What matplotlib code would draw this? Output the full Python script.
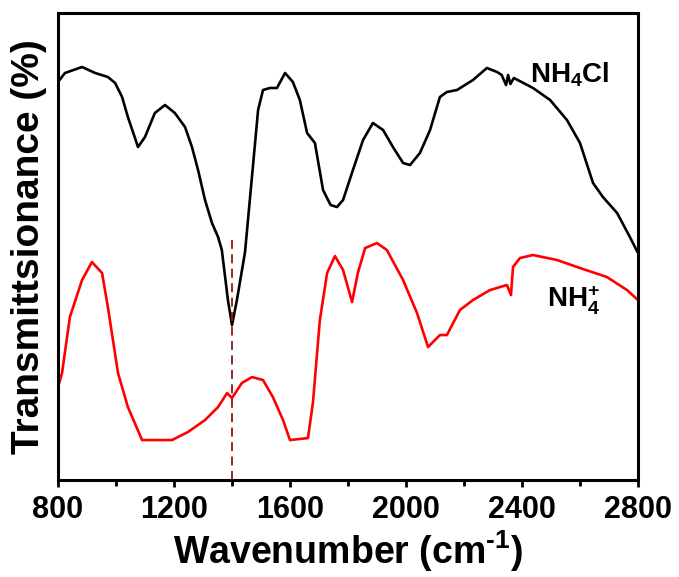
import matplotlib
matplotlib.use('Agg')
import matplotlib.pyplot as plt

plt.rcParams['font.family'] = ['Liberation Sans', 'DejaVu Sans']
plt.rcParams['font.weight'] = 'bold'
plt.rcParams['axes.labelweight'] = 'bold'
plt.rcParams['mathtext.fontset'] = 'custom'
plt.rcParams['mathtext.rm'] = 'Liberation Sans:bold'
plt.rcParams['mathtext.bf'] = 'Liberation Sans:bold'
plt.rcParams['mathtext.it'] = 'Liberation Sans:bold'

# NH4Cl spectrum (wavenumber, transmittance a.u.)
nh4cl_x = [800, 824, 883, 928, 972, 997, 1021, 1041, 1076, 1100, 1134, 1169, 1203, 1238,
           1262, 1283, 1307, 1331, 1352, 1365, 1386, 1400, 1417, 1445, 1472, 1490, 1507,
           1531, 1555, 1583, 1610, 1634, 1659, 1686, 1714, 1740, 1762, 1783, 1817, 1852,
           1886, 1921, 1955, 1990, 2014, 2048, 2083, 2117, 2141, 2176, 2231, 2279, 2314,
           2330, 2345, 2352, 2360, 2372, 2438, 2497, 2555, 2600, 2645, 2679, 2728, 2772,
           2800]
nh4cl_y = [398, 407, 413, 407, 403, 397, 383, 363, 333, 343, 367, 375, 367, 353,
           333, 310, 280, 257, 243, 230, 180, 155, 180, 228, 313, 370, 390,
           392, 392, 407, 398, 380, 347, 337, 290, 275, 273, 280, 310, 340,
           357, 350, 333, 317, 315, 327, 350, 383, 388, 390, 400, 412, 408,
           405, 395, 405, 396, 402, 392, 380, 360, 337, 297, 283, 267, 243,
           227]

# NH4+ spectrum
nh4_x = [800, 814, 841, 883, 917, 952, 972, 1007, 1041, 1090, 1193, 1248, 1307, 1352,
         1383, 1400, 1434, 1469, 1507, 1541, 1576, 1600, 1662, 1679, 1703, 1728, 1755,
         1783, 1814, 1834, 1859, 1900, 1934, 1990, 2038, 2076, 2117, 2141, 2186, 2231,
         2290, 2348, 2362, 2369, 2393, 2438, 2521, 2600, 2693, 2762, 2800]
nh4_y = [93, 107, 163, 200, 218, 207, 173, 107, 73, 40, 40, 48, 60, 73,
         87, 82, 97, 103, 100, 83, 60, 40, 42, 77, 160, 207, 224,
         210, 178, 207, 232, 237, 230, 200, 167, 133, 145, 145, 170, 180,
         190, 195, 185, 213, 222, 225, 220, 212, 203, 190, 180]

fig = plt.figure(figsize=(6.79, 5.77), dpi=100)
ax = fig.add_axes([0.0854, 0.168, 0.8542, 0.8095])

ax.plot(nh4cl_x, nh4cl_y, color='black', lw=1.9)
ax.plot(nh4_x, nh4_y, color='#ff0000', lw=1.9)
ax.plot([1400, 1400], [0, 240], color='#8b1a1a', lw=1.3, ls=(0, (5, 3)))

ax.text(2427, 405, r'NH$_{4}$Cl', fontsize=20, fontweight='bold', va='center', ha='left')
ax.text(2486, 180, r'NH$_{4}^{+}$', fontsize=20, fontweight='bold', va='center', ha='left')

ax.set_xlim(800, 2800)
ax.set_ylim(0, 467)
ax.set_xticks([800, 1200, 1600, 2000, 2400, 2800])
ax.set_xticks([1000, 1400, 1800, 2200, 2600], minor=True)
ax.set_yticks([])
ax.tick_params(axis='x', which='major', labelsize=22, width=2, length=5, direction='out', pad=6)
ax.tick_params(axis='x', which='minor', width=2, length=4, direction='out')
for lab in ax.get_xticklabels():
    lab.set_fontweight('bold')
for s in ax.spines.values():
    s.set_linewidth(2.2)

ax.set_xlabel(r'Wavenumber (cm$^{\text{-1}}$)', fontsize=27, fontweight='bold', labelpad=2)
ax.set_ylabel('Transmittsionance (%)', fontsize=28, fontweight='bold', labelpad=8)

plt.savefig('out.png', dpi=100)
